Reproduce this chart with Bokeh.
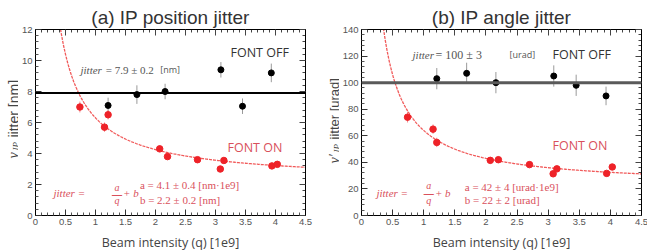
import numpy as np
from bokeh.plotting import figure
from bokeh.models import (Label, Span, FixedTicker, LinearAxis, Range1d)
from bokeh.layouts import row
from bokeh.embed import file_html
from bokeh.resources import INLINE

# ---------------- data ----------------
q_off = [1.21, 1.69, 2.16, 3.09, 3.45, 3.93]
q_on = [0.74, 1.15, 1.21, 2.07, 2.20, 2.70, 3.08, 3.14, 3.94, 4.03]

# (a) IP position jitter [nm]
a_off_y = [7.1, 7.8, 8.0, 9.4, 7.05, 9.2]
a_off_err = [0.5, 0.6, 0.5, 0.5, 0.5, 0.6]
a_on_y = [7.0, 5.7, 6.5, 4.3, 3.8, 3.6, 3.0, 3.55, 3.2, 3.3]
a_on_err = [0.35, 0.3, 0.3, 0.2, 0.2, 0.15, 0.15, 0.15, 0.15, 0.15]
a_mean_off = 7.9
a_fit_a, a_fit_b = 4.1, 2.2
a_y_ticks = [0, 2, 4, 6, 8, 10, 12]

# (b) IP angle jitter [urad]
b_off_y = [103, 107, 100, 105, 98, 90]
b_off_err = [8, 8, 8, 8, 8, 7]
b_on_y = [74, 65, 55, 41.5, 42, 38.3, 31.4, 35.1, 31.7, 36.5]
b_on_err = [4, 3.5, 3.5, 2.5, 2.5, 2, 2, 2, 2, 2]
b_mean_off = 100
b_fit_a, b_fit_b = 42, 22
b_y_ticks = [0, 20, 40, 60, 80, 100, 120, 140]

x_ticks = [0, 0.5, 1, 1.5, 2, 2.5, 3, 3.5, 4, 4.5]

RED = "#ee2228"
RED_TXT = "#d9505c"
GRAY_TXT = "#444444"
SANS = "Open Sans"
SERIF = "Liberation Serif"
TICKF = "Liberation Sans"

TOP, FRAME_H, BOTTOM = 29, 186, 37   # shared vertical layout (frames align in a row)


def minor_between(ticks, n):
    out = []
    for t0, t1 in zip(ticks[:-1], ticks[1:]):
        step = (t1 - t0) / n
        out += [t0 + k * step for k in range(1, n)]
    return out


def style_axis(ax):
    ax.axis_line_color = "black"
    ax.major_tick_in = 6
    ax.major_tick_out = 0
    ax.minor_tick_in = 3
    ax.minor_tick_out = 0
    ax.major_tick_line_color = "#333333"
    ax.minor_tick_line_color = "#555555"
    ax.major_label_standoff = 3
    ax.major_label_text_font = TICKF
    ax.major_label_text_font_size = "9.5px"
    ax.major_label_text_color = "#555555"


def bare_axis(tick_list, length):
    # axis without labels: ticks drawn as "minor" ticks of a label-less ticker
    ax = LinearAxis(ticker=FixedTicker(ticks=[], minor_ticks=tick_list))
    ax.axis_line_color = "black"
    ax.minor_tick_in = length
    ax.minor_tick_out = 0
    ax.minor_tick_line_color = "#444444"
    ax.major_tick_in = 0
    ax.major_tick_out = 0
    ax.major_label_standoff = 0
    return ax


def make_panel(title, t_offset, width, frame_w, bl, br, ymax,
               y_ticks, off_y, off_err, on_y, on_err, mean_off, fa, fb,
               mean_color, mean_w):
    p = figure(width=width, height=252, frame_width=frame_w, frame_height=FRAME_H,
               output_backend="svg", toolbar_location=None,
               x_range=Range1d(0, 4.5), y_range=Range1d(0, ymax),
               min_border_left=bl, min_border_right=br,
               min_border_top=TOP, min_border_bottom=BOTTOM)
    p.grid.visible = False
    p.outline_line_color = "black"
    p.outline_line_width = 1

    p.title.text = title
    p.title.text_font = TICKF
    p.title.text_font_size = "19px"
    p.title.text_font_style = "normal"
    p.title.text_color = "#333333"
    p.title.align = "center"
    p.title.offset = t_offset
    p.title.standoff = 3

    x_minor = minor_between(x_ticks, 5)
    y_minor = minor_between(y_ticks, 5)
    p.xaxis.ticker = FixedTicker(ticks=x_ticks, minor_ticks=x_minor)
    p.yaxis.ticker = FixedTicker(ticks=y_ticks, minor_ticks=y_minor)
    p.xaxis.major_label_overrides = {t: ("%g" % t) for t in x_ticks}
    style_axis(p.xaxis[0])
    style_axis(p.yaxis[0])
    p.xaxis.axis_label = "Beam intensity (q) [1e9]"
    p.xaxis.axis_label_text_font = SANS
    p.xaxis.axis_label_text_font_size = "12.5px"
    p.xaxis.axis_label_text_font_style = "normal"
    p.xaxis.axis_label_text_color = "#444444"
    p.xaxis.axis_label_standoff = 6

    p.add_layout(bare_axis(x_minor, 3), "above")
    p.add_layout(bare_axis(x_ticks, 6), "above")
    p.add_layout(bare_axis(y_minor, 3), "right")
    p.add_layout(bare_axis(y_ticks, 6), "right")

    # mean line FONT OFF
    p.add_layout(Span(location=mean_off, dimension="width",
                      line_color=mean_color, line_width=mean_w))

    # fit curve FONT ON  (jitter = a/q + b, with the fitted a, b shown on the chart)
    qq = np.linspace(0.3, 4.5, 300)
    p.line(qq, fa / qq + fb, line_color="#f04848", line_width=1.3,
           line_dash="3 1", line_alpha=0.9)

    # error bars
    off_lo = [y - e for y, e in zip(off_y, off_err)]
    off_hi = [y + e for y, e in zip(off_y, off_err)]
    on_lo = [y - e for y, e in zip(on_y, on_err)]
    on_hi = [y + e for y, e in zip(on_y, on_err)]
    p.segment(q_off, off_lo, q_off, off_hi, line_color="#9a9a9a", line_width=1)
    p.segment(q_on, on_lo, q_on, on_hi, line_color="#f08a8a", line_width=1)

    p.scatter(q_off, off_y, size=6, fill_color="black", line_color="black")
    p.scatter(q_on, on_y, size=6.5, fill_color=RED, line_color=RED)
    return p


def label_strip(width):
    s = figure(width=width, height=252, frame_width=width, frame_height=FRAME_H,
               title=None, output_backend="svg", toolbar_location=None,
               x_axis_type=None, y_axis_type=None,
               x_range=Range1d(0, 1), y_range=Range1d(0, 1),
               min_border_left=0, min_border_right=0,
               min_border_top=TOP, min_border_bottom=BOTTOM)
    s.grid.visible = False
    s.outline_line_color = None
    return s


def lab(p, text, x, y, units="data", size="11px", font=SANS, style="normal",
        color=GRAY_TXT, align="left", baseline="middle", angle=0):
    p.add_layout(Label(x=x, y=y, x_units=units, y_units=units, text=text,
                       text_font_size=size, text_font=font, text_font_style=style,
                       text_color=color, text_align=align, text_baseline=baseline,
                       angle=angle, angle_units="deg"))


# ---------------- panels ----------------
pa = make_panel("(a) IP position jitter", -22, 300, 270, 14, 16, 12,
                a_y_ticks, a_off_y, a_off_err, a_on_y, a_on_err, a_mean_off,
                a_fit_a, a_fit_b, "black", 2)
pb = make_panel("(b) IP angle jitter", -27, 311, 280, 21, 10, 140,
                b_y_ticks, b_off_y, b_off_err, b_on_y, b_on_err, b_mean_off,
                b_fit_a, b_fit_b, "#5a5a5a", 3)

# ---------------- y-axis label strips (screen units from frame bottom-left) ----------------
sa = label_strip(18)
lab(sa, "y", 13, 57, units="screen", size="14px", font=SERIF, style="italic",
    color="#444444", baseline="alphabetic", angle=90)
lab(sa, "IP", 15.5, 65, units="screen", size="9px", font=SERIF, style="italic",
    color="#444444", baseline="alphabetic", angle=90)
lab(sa, "jitter [nm]", 13.5, 78, units="screen", size="14px", font=TICKF,
    color="#444444", baseline="alphabetic", angle=90)

sb = label_strip(18)
lab(sb, "y\u2032", 13, 52, units="screen", size="14px", font=SERIF, style="italic",
    color="#444444", baseline="alphabetic", angle=90)
lab(sb, "IP", 15.5, 63, units="screen", size="9px", font=SERIF, style="italic",
    color="#444444", baseline="alphabetic", angle=90)
lab(sb, "jitter [urad]", 13, 76, units="screen", size="13px", font=TICKF,
    color="#444444", baseline="alphabetic", angle=90)

# FONT OFF annotations
lab(pa, "jitter", 0.75, 9.4, size="11px", font=SERIF, style="italic", color="#555555")
lab(pa, "= 7.9 \u00b1 0.2", 1.17, 9.4, size="11px", font=SERIF, color="#555555")
lab(pa, "[nm]", 2.08, 9.4, size="9px", color="#555555")
lab(pa, "FONT OFF", 3.25, 10.5, size="12.5px", color="#333333")

lab(pb, "jitter", 0.82, 121, size="11px", font=SERIF, style="italic", color="#555555")
lab(pb, "=  100 \u00b1 3", 1.19, 121, size="12px", font=SERIF, color="#555555")
lab(pb, "[urad]", 2.38, 121, size="9px", color="#555555")
lab(pb, "FONT OFF", 3.07, 121, size="12.5px", color="#333333")

# FONT ON annotations
lab(pa, "FONT ON", 3.2, 4.4, size="12.5px", color=RED_TXT)
lab(pb, "FONT ON", 3.07, 53, size="12.5px", color=RED_TXT)

# fit formula (a)
lab(pa, "jitter  =", 0.3, 1.45, size="11px", font=SERIF, style="italic", color=RED_TXT)
lab(pa, "a", 1.36, 1.8, size="10px", font=SERIF, style="italic", color=RED_TXT, align="center")
lab(pa, "\u2014", 1.36, 1.45, size="11px", font=SANS, color=RED_TXT, align="center")
lab(pa, "q", 1.36, 1.0, size="10px", font=SERIF, style="italic", color=RED_TXT, align="center")
lab(pa, "+ b", 1.46, 1.45, size="11px", font=SERIF, style="italic", color=RED_TXT)
lab(pa, "a = 4.1 \u00b1 0.4 [nm\u00b71e9]", 1.74, 1.95, size="11px", font=SERIF, color=RED_TXT)
lab(pa, "b = 2.2 \u00b1 0.2 [nm]", 1.74, 0.97, size="11px", font=SERIF, color=RED_TXT)

# fit formula (b)
lab(pb, "jitter  =", 0.24, 17, size="11px", font=SERIF, style="italic", color=RED_TXT)
lab(pb, "a", 1.08, 22.5, size="10px", font=SERIF, style="italic", color=RED_TXT, align="center")
lab(pb, "\u2014", 1.08, 17, size="11px", font=SANS, color=RED_TXT, align="center")
lab(pb, "q", 1.08, 11.5, size="10px", font=SERIF, style="italic", color=RED_TXT, align="center")
lab(pb, "+ b", 1.18, 17, size="11px", font=SERIF, style="italic", color=RED_TXT)
lab(pb, "a = 42 \u00b1 4 [urad\u00b71e9]", 1.66, 21.5, size="11px", font=SERIF, color=RED_TXT)
lab(pb, "b = 22 \u00b1 2 [urad]", 1.66, 11.3, size="11px", font=SERIF, color=RED_TXT)

layout = row(sa, pa, sb, pb, spacing=0)
open("out.html", "w").write(file_html(layout, INLINE))
